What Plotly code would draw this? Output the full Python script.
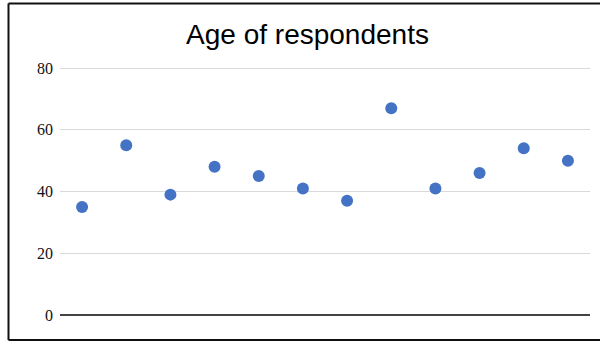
import plotly.graph_objects as go

respondent = list(range(1, 13))
ages = [35, 55, 39, 48, 45, 41, 37, 67, 41, 46, 54, 50]
y_ticks = [0, 20, 40, 60, 80]

W, H = 600, 342
L, R, T, B = 60, 10, 65, 27
pw, ph = W - L - R, H - T - B

def px_x(x):
    return (x - L) / pw

def px_y(y):
    return (H - B - y) / ph

fig = go.Figure()
fig.add_trace(go.Scatter(
    x=respondent, y=ages, mode="markers",
    marker=dict(color="#4472C4", size=12),
    hoverinfo="y",
))

border = dict(color="#111111", width=2)
shapes = [
    dict(type="line", xref="paper", yref="paper", x0=px_x(8.5), x1=px_x(8.5), y0=px_y(3.5), y1=px_y(340), line=border),
    dict(type="line", xref="paper", yref="paper", x0=px_x(8.5), x1=px_x(600), y0=px_y(3.5), y1=px_y(3.5), line=border),
    dict(type="line", xref="paper", yref="paper", x0=px_x(8.5), x1=px_x(600), y0=px_y(340), y1=px_y(340), line=border),
]

fig.update_layout(
    width=W, height=H,
    margin=dict(l=L, r=R, t=T, b=B),
    paper_bgcolor="white", plot_bgcolor="white",
    showlegend=False,
    title=dict(text="Age of respondents", x=307.5 / W, xref="container", xanchor="center",
               y=1 - 34 / H, yref="container", yanchor="middle",
               font=dict(family="Liberation Sans, Arial", size=28, color="black")),
    xaxis=dict(range=[0.5, 12.5], showticklabels=False, showgrid=False, zeroline=False,
               showline=False, ticks=""),
    yaxis=dict(range=[0, 81], tickvals=y_ticks, ticktext=[str(v) for v in y_ticks],
               showgrid=True, gridcolor="#d9d9d9", gridwidth=1,
               zeroline=True, zerolinecolor="#444444", zerolinewidth=1.5,
               ticks="", ticklabelstandoff=6,
               tickfont=dict(family="Liberation Serif, Times New Roman", size=16, color="#111111")),
    shapes=shapes,
)

fig.write_html("out.html")
